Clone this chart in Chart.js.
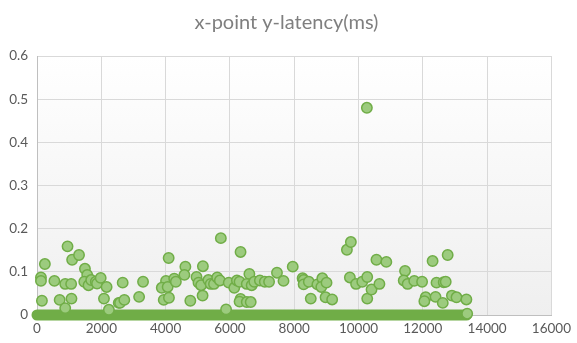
<!DOCTYPE html>
<html>
<head>
<meta charset="utf-8">
<script src="https://cdn.jsdelivr.net/npm/chart.js@4.4.0/dist/chart.umd.min.js"></script>
<style>
  html, body { margin: 0; padding: 0; background: #fff; }
  #wrap { width: 577px; height: 343px; }
</style>
</head>
<body>
<div id="wrap"><canvas id="myChart" width="577" height="343"></canvas></div>
<script>
// latency samples that stand out from the floor (x = point index, y = ms)
const pointX = [950, 245, 1093, 1307, 123, 123, 541, 878, 1062, 1491, 1562, 1470, 1603, 1685, 1828, 1868, 1981, 2165,
  153, 705, 1072, 2083, 878, 2236, 2542, 2665, 3298, 2583, 2716, 3176, 4095, 4013, 3881, 4064, 3942, 4104, 4268, 4319,
  4615, 4585, 4769, 4962, 5023, 5105, 5160, 5150, 5718, 6331, 5330, 5401, 5504, 5605, 5688, 5963, 6136, 6218, 6300,
  6606, 6524, 6677, 6759, 6932, 7085, 7218, 7464, 7667, 6331, 6300, 6524, 6647, 5881, 7954, 8261, 8292, 8292, 8454,
  8721, 8874, 8843, 9005, 8515, 8975, 9180, 9639, 9762, 9731, 9924, 10117, 10271, 10271, 10405, 10558, 10865, 10650,
  11447, 11406, 11528, 11733, 11977, 12304, 12773, 12426, 12650, 12712, 12089, 12048, 12396, 12620, 12905, 13048,
  13355, 10260, 13380];
const pointY = [0.159, 0.118, 0.128, 0.139, 0.087, 0.079, 0.079, 0.072, 0.072, 0.107, 0.093, 0.077, 0.069, 0.081, 0.077,
  0.073, 0.086, 0.065, 0.033, 0.035, 0.038, 0.038, 0.016, 0.012, 0.028, 0.075, 0.077, 0.028, 0.035, 0.042, 0.132, 0.079,
  0.063, 0.065, 0.035, 0.040, 0.084, 0.077, 0.112, 0.093, 0.033, 0.088, 0.075, 0.069, 0.113, 0.045, 0.178, 0.146, 0.081,
  0.072, 0.072, 0.087, 0.080, 0.075, 0.063, 0.080, 0.077, 0.095, 0.072, 0.069, 0.077, 0.080, 0.077, 0.077, 0.098, 0.079,
  0.037, 0.031, 0.030, 0.030, 0.013, 0.112, 0.085, 0.081, 0.071, 0.077, 0.071, 0.085, 0.065, 0.075, 0.038, 0.041, 0.036,
  0.151, 0.169, 0.087, 0.072, 0.077, 0.088, 0.038, 0.059, 0.128, 0.123, 0.072, 0.102, 0.080, 0.072, 0.079, 0.077, 0.125,
  0.139, 0.075, 0.076, 0.077, 0.041, 0.032, 0.042, 0.028, 0.045, 0.041, 0.036, 0.480, 0.003];

// thousands of samples sit at ~0 ms, forming a solid band over this index range
const floorX = [0, 13360];
const floorY = [0, 0];

const yTicks = [0, 0.1, 0.2, 0.3, 0.4, 0.5, 0.6];
const xTicks = [0, 2000, 4000, 6000, 8000, 10000, 12000, 14000, 16000];

const outliers = pointX.map((x, i) => ({ x: x, y: pointY[i] }));
const floorPts = floorX.map((x, i) => ({ x: x, y: floorY[i] }));

// light grey gradient behind the plot area
const plotBg = {
  id: 'plotBg',
  beforeDraw(chart) {
    const a = chart.chartArea, ctx = chart.ctx;
    const g = ctx.createLinearGradient(0, a.top, 0, a.bottom);
    g.addColorStop(0, '#ffffff');
    g.addColorStop(1, '#efefef');
    ctx.save();
    ctx.fillStyle = g;
    ctx.fillRect(a.left, a.top, a.right - a.left, a.bottom - a.top);
    ctx.restore();
  }
};

const green = '#70AD47';
const ctx = document.getElementById('myChart').getContext('2d');
const myChart = new Chart(ctx, {
  type: 'scatter',
  data: {
    datasets: [{
      label: 'latency',
      data: outliers,
      backgroundColor: '#9ccb7e',
      borderColor: green,
      borderWidth: 1.5,
      pointRadius: 5.2,
      clip: false,
      order: 1
    }, {
      label: 'floor',
      type: 'line',
      data: floorPts,
      borderColor: green,
      borderWidth: 11,
      borderCapStyle: 'round',
      pointRadius: 0,
      fill: false,
      clip: false,
      order: 2
    }]
  },
  options: {
    responsive: false,
    animation: false,
    layout: { padding: { left: 0, right: 4, top: 0, bottom: 0 } },
    plugins: {
      legend: { display: false },
      tooltip: { enabled: false },
      title: {
        display: true,
        text: 'x-point y-latency(ms)',
        color: '#7f7f7f',
        font: { family: 'Lato, "Open Sans", sans-serif', size: 20, weight: 'normal' },
        padding: { top: 11, bottom: 21 }
      }
    },
    scales: {
      x: {
        type: 'linear',
        min: 0, max: 16000,
        afterBuildTicks: s => { s.ticks = xTicks.map(v => ({ value: v })); },
        afterFit: s => { s.height = 28; },
        grid: { color: '#d9d9d9', drawTicks: false },
        border: { color: '#bfbfbf' },
        ticks: {
          color: '#595959',
          padding: 6,
          maxRotation: 0,
          font: { family: 'Lato, "Open Sans", sans-serif', size: 13.5 },
          callback: v => String(v)
        }
      },
      y: {
        min: 0, max: 0.6,
        afterBuildTicks: s => { s.ticks = yTicks.map(v => ({ value: v })); },
        afterFit: s => { s.width = 37; },
        grid: { color: '#d9d9d9', drawTicks: false },
        border: { color: '#bfbfbf' },
        ticks: {
          color: '#595959',
          padding: 9,
          font: { family: 'Lato, "Open Sans", sans-serif', size: 13.5 },
          callback: v => v === 0 ? '0' : v.toFixed(1)
        }
      }
    }
  },
  plugins: [plotBg]
});
</script>
</body>
</html>
